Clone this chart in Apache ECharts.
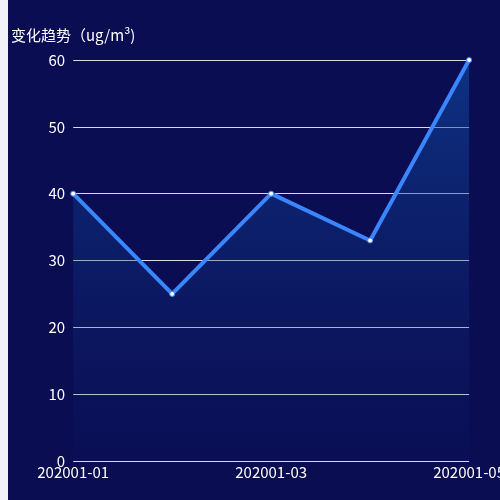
<!DOCTYPE html>
<html><head><meta charset="utf-8">
<script src="https://cdn.jsdelivr.net/npm/echarts@6/dist/echarts.min.js"></script>
<style>html,body{margin:0;padding:0;background:#f2f3f8;overflow:hidden;width:500px;height:500px}
#c{position:absolute;left:8px;top:0;width:500px;height:500px;background:#0a0d52}</style>
</head><body><div id="c"></div>
<script>
const categories=['202001-01','202001-02','202001-03','202001-04','202001-05'];
const values=[40,25,40,33,60];
const chart=echarts.init(document.getElementById('c'));
const F='"Noto Sans CJK SC","Noto Sans",sans-serif';
chart.setOption({
  backgroundColor:'#0a0d52',
  grid:{left:61,right:3,top:60,bottom:39},
  xAxis:{type:'category',data:categories,boundaryGap:false,
    axisLine:{show:false},axisTick:{show:false},
    axisLabel:{color:'#fff',fontSize:15,fontFamily:F,interval:1,margin:4}},
  yAxis:{type:'value',min:0,max:60,interval:10,name:'变化趋势（ug/m³)',
    nameTextStyle:{color:'#fff',fontSize:15,fontFamily:F,padding:[0,0,2,0]},
    axisLine:{show:false},axisTick:{show:false},
    axisLabel:{color:'#fff',fontSize:15,fontFamily:F,margin:8},
    splitLine:{lineStyle:{color:'rgba(255,255,255,0.85)',width:1}}},
  series:[{type:'line',data:values,symbol:'circle',symbolSize:5,
    itemStyle:{color:'#fff',borderColor:'#3a86ff',borderWidth:1},
    lineStyle:{color:'#3a86ff',width:4},
    areaStyle:{color:new echarts.graphic.LinearGradient(0,0,0,1,[{offset:0,color:'rgba(16,80,170,0.8)'},{offset:1,color:'rgba(16,40,120,0.1)'}])}}]
});
</script></body></html>
